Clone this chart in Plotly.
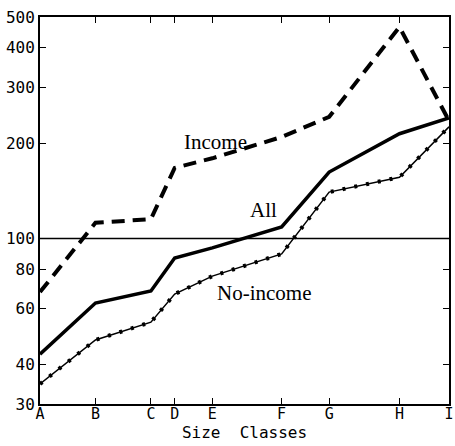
import plotly.graph_objects as go
import numpy as np

size_classes = ["A", "B", "C", "D", "E", "F", "G", "H", "I"]
class_pos = [0, 56, 112, 136, 174, 244, 292, 363, 413]

income = [67.7, 112, 115, 167, 179, 209, 242, 465, 235]
all_hh = [43.1, 62.5, 68.2, 86.7, 93.3, 108.7, 162, 214, 240]
no_income = [34.7, 47.8, 54.4, 66.7, 76, 89.3, 140, 156, 225]

y_ticks = [30, 40, 60, 80, 100, 200, 300, 400, 500]

fig = go.Figure()

# reference line at 100
fig.add_trace(go.Scatter(x=[class_pos[0], class_pos[-1]], y=[100, 100], mode="lines",
                         line=dict(color="black", width=1.5), hoverinfo="skip", showlegend=False))

fig.add_trace(go.Scatter(x=class_pos, y=income, mode="lines", name="Income",
                         line=dict(color="black", width=4, dash="13px,8px"), showlegend=False))
fig.add_trace(go.Scatter(x=class_pos, y=all_hh, mode="lines", name="All",
                         line=dict(color="black", width=3.5), showlegend=False))
fig.add_trace(go.Scatter(x=class_pos, y=no_income, mode="lines", name="No-income",
                         line=dict(color="black", width=1.5), showlegend=False))
fig.add_trace(go.Scatter(x=class_pos, y=no_income, mode="lines", hoverinfo="skip",
                         line=dict(color="black", width=4, dash="3px,9px"), showlegend=False))

lab_font = dict(family="Liberation Serif", size=21, color="black")
fig.add_annotation(x=177, y=np.log10(202), text="Income", showarrow=False, font=lab_font)
fig.add_annotation(x=226, y=np.log10(123), text="All", showarrow=False, font=lab_font)
fig.add_annotation(x=226, y=np.log10(67), text="No-income", showarrow=False, font=lab_font)

tick_font = dict(family="DejaVu Sans Mono", size=16, color="black")

fig.update_xaxes(range=[class_pos[0], class_pos[-1]], tickvals=class_pos, ticktext=size_classes,
                 ticks="inside", ticklen=6, tickcolor="black", mirror="ticks", showline=True,
                 linecolor="black", linewidth=2, showgrid=False, zeroline=False,
                 tickfont=dict(family="DejaVu Sans Mono", size=15, color="black"),
                 ticklabelstandoff=-5, ticklabeloverflow="allow", automargin=False,
                 title=dict(text="Size  Classes", font=dict(family="DejaVu Sans Mono", size=16, color="black"),
                            standoff=0))
fig.update_yaxes(type="log", range=[np.log10(30), np.log10(500)], tickvals=y_ticks,
                 ticktext=[str(v) for v in y_ticks], ticks="inside", ticklen=6, tickcolor="black",
                 mirror="ticks", showline=True, linecolor="black", linewidth=2, showgrid=False,
                 zeroline=False, tickfont=tick_font, ticklabeloverflow="allow", automargin=False)

fig.update_layout(width=455, height=446, margin=dict(l=40, r=6, t=17, b=42),
                  plot_bgcolor="white", paper_bgcolor="white")

post = ("document.body.style.margin='0';document.body.style.overflow='hidden';"
        "var gd=document.getElementById('{plot_id}');"
        "Plotly.relayout(gd,{width:455,height:446});")
fig.write_html("out.html", post_script=post, config={"displayModeBar": False})
